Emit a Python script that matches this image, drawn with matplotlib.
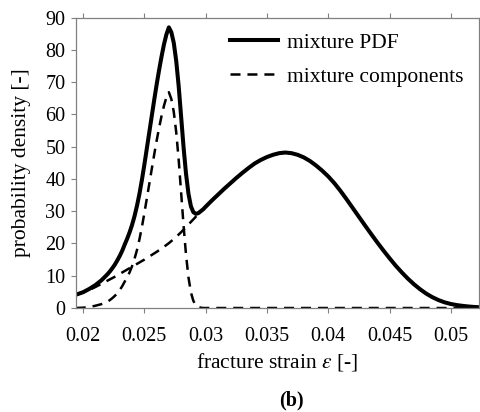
import matplotlib
matplotlib.use("Agg")
import matplotlib.pyplot as plt

plt.rcParams['font.family'] = ['Liberation Serif', 'DejaVu Serif']
plt.rcParams['mathtext.fontset'] = 'stix'
plt.rcParams['lines.scale_dashes'] = False

# mixture PDF
pdf_x = [0.0194, 0.0200, 0.0205, 0.0210, 0.0215, 0.0220, 0.0222, 0.0224, 0.0226,
         0.0228, 0.0230, 0.0232, 0.0234, 0.0236, 0.0238, 0.0240, 0.0242, 0.0244,
         0.0246, 0.0248, 0.0250, 0.0252, 0.0254, 0.0256, 0.0258, 0.0260, 0.0262,
         0.0264, 0.0266, 0.0268, 0.0270, 0.0272, 0.0274, 0.0276, 0.0278, 0.0280,
         0.0282, 0.0284, 0.0286, 0.0288, 0.0290, 0.0292, 0.0294, 0.0296, 0.0298,
         0.0300, 0.0305, 0.0310, 0.0315, 0.0320, 0.0325, 0.0330, 0.0335, 0.0340,
         0.0345, 0.0350, 0.0355, 0.0360, 0.0365, 0.0370, 0.0375, 0.0380, 0.0385,
         0.0390, 0.0395, 0.0400, 0.0405, 0.0410, 0.0415, 0.0420, 0.0425, 0.0430,
         0.0435, 0.0440, 0.0445, 0.0450, 0.0455, 0.0460, 0.0465, 0.0470, 0.0475,
         0.0480, 0.0485, 0.0490, 0.0495, 0.0500, 0.0505, 0.0510, 0.0515, 0.0520,
         0.0524]
pdf_y = [4.1, 4.9, 5.9, 7.1, 8.6, 10.5, 11.4, 12.4, 13.5,
         14.8, 16.2, 17.8, 19.7, 21.5, 23.5, 25.8, 28.5, 31.7,
         35.4, 39.7, 44.4, 49.4, 54.4, 59.4, 64.4, 69.2, 73.7,
         77.9, 81.7, 84.8, 87.0, 85.5, 82.2, 76.6, 68.8, 59.3,
         49.8, 41.6, 35.4, 31.5, 29.7, 29.2, 29.4, 30.0, 30.6,
         31.4, 33.3, 35.1, 36.9, 38.6, 40.3, 41.9, 43.4, 44.8,
         45.9, 46.8, 47.5, 48.0, 48.2, 48.0, 47.5, 46.7, 45.6,
         44.2, 42.6, 40.8, 38.7, 36.3, 33.7, 31.0, 28.3, 25.6,
         22.95, 20.35, 17.85, 15.45, 13.15, 11.05, 9.1, 7.35, 5.8,
         4.45, 3.35, 2.45, 1.75, 1.25, 0.9, 0.65, 0.45, 0.3,
         0.25]

# narrow mixture component
comp1_x = [0.0194, 0.0200, 0.0205, 0.0210, 0.0215, 0.0220, 0.0222, 0.0224, 0.0226,
           0.0228, 0.0230, 0.0232, 0.0234, 0.0236, 0.0238, 0.0240, 0.0242, 0.0244,
           0.0246, 0.0248, 0.0250, 0.0252, 0.0254, 0.0256, 0.0258, 0.0260, 0.0262,
           0.0264, 0.0266, 0.0268, 0.0270, 0.0272, 0.0274, 0.0276, 0.0278, 0.0280,
           0.0282, 0.0284, 0.0286, 0.0288, 0.0290, 0.0292, 0.0294, 0.0296, 0.0298,
           0.0300, 0.0524]
comp1_y = [0.0, 0.1, 0.3, 0.7, 1.2, 2.0, 2.5, 3.1, 3.8,
           4.6, 5.6, 6.8, 8.2, 9.6, 11.1, 13.0, 15.3, 18.0,
           21.3, 25.1, 29.4, 33.9, 38.4, 43.0, 47.5, 51.8, 55.8,
           59.5, 62.7, 65.3, 66.9, 64.8, 60.8, 54.5, 46.0, 35.8,
           25.5, 16.5, 9.5, 4.8, 2.2, 0.9, 0.3, 0.1, 0.0,
           0.0, 0.0]

# broad mixture component
comp2_x = [0.0194, 0.0200, 0.0205, 0.0210, 0.0215, 0.0220, 0.0225, 0.0230, 0.0235,
           0.0240, 0.0245, 0.0250, 0.0255, 0.0260, 0.0265, 0.0270, 0.0275, 0.0280,
           0.0285, 0.0290, 0.0295, 0.0300, 0.0305, 0.0310]
comp2_y = [4.0, 4.8, 5.6, 6.5, 7.5, 8.5, 9.5, 10.6, 11.7,
           12.8, 13.9, 15.0, 16.2, 17.4, 18.7, 20.1, 21.7, 23.5,
           25.5, 27.5, 29.5, 31.4, 33.3, 35.1]

x_ticks = [0.02, 0.025, 0.03, 0.035, 0.04, 0.045, 0.05]
x_labels = ['0.02', '0.025', '0.03', '0.035', '0.04', '0.045', '0.05']
y_ticks = [0, 10, 20, 30, 40, 50, 60, 70, 80, 90]

fig = plt.figure(figsize=(4.81, 4.12), dpi=100)
ax = fig.add_axes([0.1574, 0.2524, 0.8384, 0.7047])

dash = (0, (7.2, 5.0))
ax.plot(comp1_x, comp1_y, color='black', lw=1.8, linestyle=dash, label='mixture components')
ax.plot(comp2_x, comp2_y, color='black', lw=1.8, linestyle=dash)
ax.plot(pdf_x, pdf_y, color='black', lw=2.9, label='mixture PDF')

ax.set_xlim(0.0194, 0.0523)
ax.set_ylim(0, 90)
ax.set_xticks(x_ticks)
ax.set_xticklabels(x_labels)
ax.set_yticks(y_ticks)

for s in ax.spines.values():
    s.set_color('#808080')
    s.set_linewidth(0.9)
ax.tick_params(axis='both', direction='out', length=3.5, width=0.8, color='#808080',
               labelsize=14.5, top=True, right=True)
ax.tick_params(axis='x', pad=10)
ax.tick_params(axis='y', pad=4)

ax.set_xlabel(r'fracture strain $\varepsilon$ [-]', fontsize=15.5, labelpad=4)
ax.set_ylabel('probability density [-]', fontsize=15.5, labelpad=10)

h, l = ax.get_legend_handles_labels()
ax.legend(h[::-1], l[::-1], loc='upper right', frameon=False, fontsize=15.5,
          handlelength=2.2, handletextpad=0.45, labelspacing=0.65,
          bbox_to_anchor=(1.0, 1.0), borderaxespad=0.3)

fig.text(291 / 481, 1 - 400 / 412, '(b)', fontsize=14.5, fontweight='bold',
         ha='center', va='center')

fig.savefig('out.png', dpi=100)
